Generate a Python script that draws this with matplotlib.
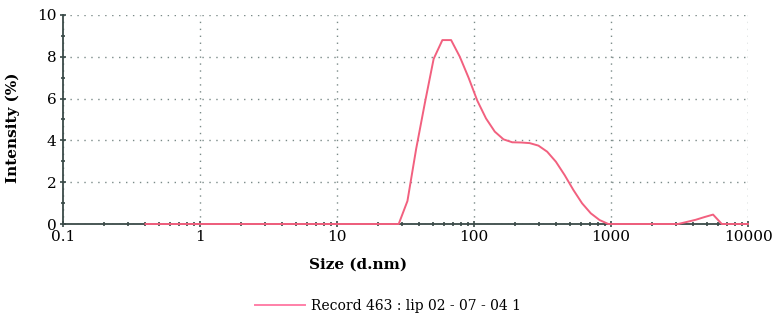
import matplotlib
matplotlib.use("Agg")
import matplotlib.pyplot as plt
from matplotlib.ticker import FixedLocator, FixedFormatter, NullFormatter
import numpy as np

# size bins (d.nm) and intensity (%)
size = [0.4, 1.0, 10.0, 20.0, 28.21, 32.67, 37.84, 43.82, 50.75, 58.77, 68.06,
        78.82, 91.28, 105.7, 122.4, 141.8, 164.2, 190.1, 220.2, 255.0, 295.3,
        342.0, 396.1, 458.7, 531.2, 615.1, 712.4, 825.0, 955.4, 1106, 2000,
        3091, 3580, 4145, 4801, 5560, 6439, 7456, 8635, 10000]
intensity = [0, 0, 0, 0, 0, 1.1, 3.6, 5.8, 7.9, 8.8, 8.8,
             8.0, 7.0, 5.9, 5.05, 4.42, 4.05, 3.91, 3.9, 3.87, 3.75,
             3.46, 2.98, 2.34, 1.63, 0.99, 0.51, 0.19, 0, 0, 0,
             0, 0.1, 0.2, 0.33, 0.45, 0, 0, 0, 0]
label = "Record 463 : lip 02 - 07 - 04 1"

xticks = [0.1, 1, 10, 100, 1000, 10000]
xticklabels = ["0.1", "1", "10", "100", "1000", "10000"]

serif = ["DejaVu Serif"]
fig = plt.figure(figsize=(7.75, 3.21), dpi=100)
ax = fig.add_axes([63/775, 1-224/321, 685/775, 209/321])

line, = ax.plot(size, intensity, color="#f2607f", lw=1.4, label=label,
                zorder=3, clip_on=False)

ax.set_xscale("log")
ax.set_xlim(0.1, 10000)
ax.set_ylim(0, 10)
ax.xaxis.set_major_locator(FixedLocator(xticks))
ax.xaxis.set_major_formatter(FixedFormatter(xticklabels))
minors = [m * 10.0**e for e in range(-1, 4) for m in range(2, 10)]
ax.xaxis.set_minor_locator(FixedLocator(minors))
ax.xaxis.set_minor_formatter(NullFormatter())
ax.set_yticks(range(0, 11, 2))
ax.set_yticks(range(1, 10, 2), minor=True)

ax.grid(True, which="major", color="#7a8a88", ls=(0, (1, 4)), lw=1.0)
for s in ["top", "right"]:
    ax.spines[s].set_visible(False)
for s in ["left", "bottom"]:
    ax.spines[s].set_color("#3a4a48")
    ax.spines[s].set_linewidth(1.3)
ax.tick_params(which="both", direction="inout", color="#3a4a48", width=1.2)
ax.tick_params(which="major", length=5, labelsize=11, pad=2)
ax.tick_params(which="minor", length=3)
for t in ax.get_xticklabels() + ax.get_yticklabels():
    t.set_family(serif)

ax.set_xlabel("Size (d.nm)", family=serif, fontweight="bold", fontsize=11)
ax.xaxis.set_label_coords((358-63)/685, -(258-224)/209)
ax.set_ylabel("Intensity (%)", family=serif, fontweight="bold", fontsize=11)
ax.yaxis.set_label_coords(-(63-20)/685, 0.46)

fig.legend(handles=[line], loc="center", bbox_to_anchor=(388/775, 1-306/321),
           frameon=False, handlelength=3.6, handletextpad=0.5,
           prop={"family": serif, "size": 10})
line_leg = fig.legends[0].get_lines()[0]
line_leg.set_color("#ff80a8")

fig.savefig("out.png", dpi=100)
